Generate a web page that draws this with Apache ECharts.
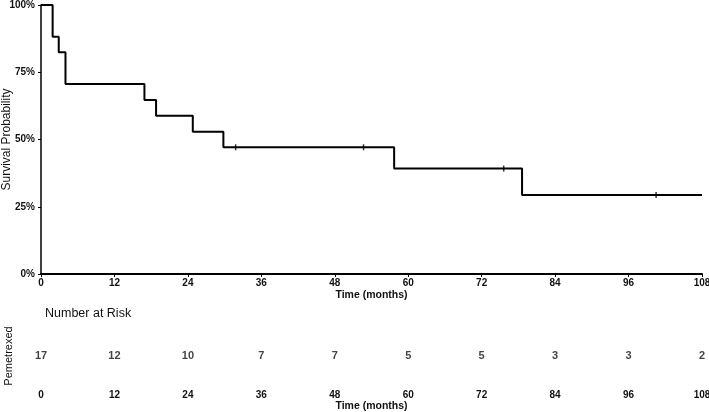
<!DOCTYPE html>
<html>
<head>
<meta charset="utf-8">
<script src="https://cdn.jsdelivr.net/npm/echarts@6/dist/echarts.min.js"></script>
<style>
html,body{margin:0;padding:0;background:#fff;}
#chart{width:709px;height:412px;}
</style>
</head>
<body>
<div id="chart"></div>
<script>
// Kaplan-Meier step points: [time (months), survival %]
const kmTimes = [0, 1.9, 2.9, 4.0, 16.9, 18.8, 24.8, 29.8, 57.7, 78.6, 108];
const kmSurv  = [100, 88.2, 82.4, 70.6, 64.7, 58.8, 52.9, 47.1, 39.2, 29.4, 29.4];
// Censored observations
const censorTimes = [31.8, 52.7, 75.6, 100.5];
const censorSurv  = [47.1, 47.1, 39.2, 29.4];
// Risk table
const riskTimes = [0, 12, 24, 36, 48, 60, 72, 84, 96, 108];
const riskCounts = [17, 12, 10, 7, 7, 5, 5, 3, 3, 2];
const groupName = 'Pemetrexed';

const FONT = '"Liberation Sans", Arial, sans-serif';
const chart = echarts.init(document.getElementById('chart'), null, {renderer: 'canvas'});

const kmData = kmTimes.map((t, i) => [t, kmSurv[i]]);
const censorData = censorTimes.map((t, i) => [t, censorSurv[i]]);
const riskData = riskTimes.map((t, i) => [t, 0.5, riskCounts[i]]);

chart.setOption({
  animation: false,
  backgroundColor: '#fff',
  textStyle: {fontFamily: FONT},
  title: {
    text: 'Number at Risk',
    left: 40, top: 302,
    textStyle: {fontFamily: FONT, fontSize: 12.5, fontWeight: 'normal', color: '#111'}
  },
  grid: [
    {left: 41, right: 7, top: 5, bottom: 138, containLabel: false, outerBoundsMode: 'none'},
    {left: 41, right: 7, top: 324, bottom: 24, containLabel: false, outerBoundsMode: 'none'}
  ],
  xAxis: [
    {
      gridIndex: 0, type: 'value', min: 0, max: 108, interval: 12,
      name: 'Time (months)', nameLocation: 'middle', nameGap: 16, nameMoveOverlap: false,
      nameTextStyle: {fontFamily: FONT, fontSize: 10.5, fontWeight: 'bold', color: '#111'},
      axisLine: {show: true, lineStyle: {color: '#000', width: 2}},
      axisTick: {show: true, length: 3, lineStyle: {color: '#000', width: 1}},
      axisLabel: {fontFamily: FONT, fontSize: 10, fontWeight: 'bold', color: '#111', margin: 4},
      splitLine: {show: false}
    },
    {
      gridIndex: 1, type: 'value', min: 0, max: 108, interval: 12,
      name: 'Time (months)', nameLocation: 'middle', nameGap: 13, nameMoveOverlap: false,
      nameTextStyle: {fontFamily: FONT, fontSize: 10.5, fontWeight: 'bold', color: '#111'},
      axisLine: {show: false},
      axisTick: {show: false},
      axisLabel: {fontFamily: FONT, fontSize: 10, fontWeight: 'bold', color: '#111', margin: 2},
      splitLine: {show: false}
    }
  ],
  yAxis: [
    {
      gridIndex: 0, type: 'value', min: 0, max: 100, interval: 25,
      name: 'Survival Probability', nameLocation: 'middle', nameGap: 28, nameMoveOverlap: false,
      nameTextStyle: {fontFamily: FONT, fontSize: 12, color: '#111'},
      axisLine: {show: true, lineStyle: {color: '#000', width: 1.5}},
      axisTick: {show: true, length: 3, lineStyle: {color: '#000', width: 1}},
      axisLabel: {fontFamily: FONT, fontSize: 10, fontWeight: 'bold', color: '#111', margin: 6, formatter: '{value}%'},
      splitLine: {show: false}
    },
    {
      gridIndex: 1, type: 'value', min: 0, max: 1,
      name: groupName, nameLocation: 'middle', nameGap: 27, nameMoveOverlap: false,
      nameTextStyle: {fontFamily: FONT, fontSize: 11, color: '#111'},
      axisLine: {show: false}, axisTick: {show: false}, axisLabel: {show: false},
      splitLine: {show: false}
    }
  ],
  series: [
    {
      type: 'line', xAxisIndex: 0, yAxisIndex: 0,
      data: kmData, step: 'end', symbol: 'none',
      lineStyle: {color: '#000', width: 2},
      z: 3
    },
    {
      type: 'scatter', xAxisIndex: 0, yAxisIndex: 0,
      data: censorData, symbol: 'rect', symbolSize: [1.5, 6],
      itemStyle: {color: '#000'}, z: 4
    },
    {
      type: 'scatter', xAxisIndex: 1, yAxisIndex: 1,
      data: riskData, symbolSize: 0,
      label: {
        show: true, position: 'inside',
        formatter: p => String(p.data[2]),
        fontFamily: FONT, fontSize: 11, fontWeight: 'bold', color: '#111'
      }
    }
  ]
});
</script>
</body>
</html>
